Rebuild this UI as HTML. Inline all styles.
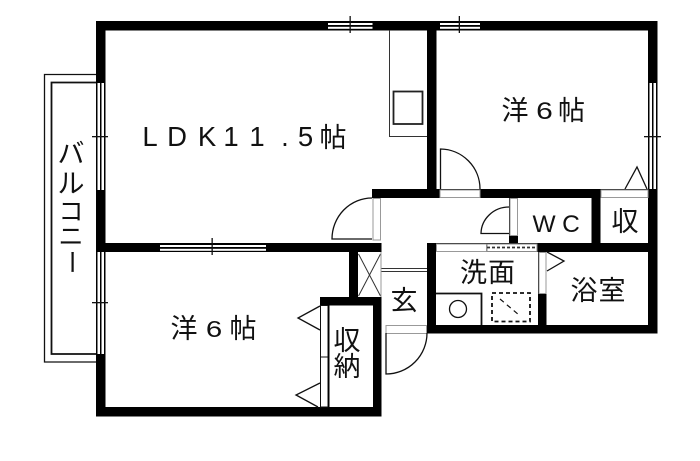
<!DOCTYPE html>
<html lang="ja"><head><meta charset="utf-8"><style>
html,body{margin:0;padding:0;background:#fff}
svg{display:block;filter:blur(.3px)}
text{font-family:"Liberation Sans","Noto Sans CJK JP",sans-serif;fill:#111;text-anchor:middle}
.j{font-size:27px}
.l{font-size:27.5px}
.t{fill:none;stroke:#111;stroke-width:1.3}
.g{fill:none;stroke:#333;stroke-width:1}
.f{fill:#fff;stroke:#999;stroke-width:1}
</style></head><body>
<svg width="700" height="461" viewBox="0 0 700 461" xmlns="http://www.w3.org/2000/svg">
<rect width="700" height="461" fill="#fff"/>
<!-- balcony -->
<path d="M96 74.5H44.5V362H96" fill="none" stroke="#111" stroke-width="1.3"/>
<path d="M96 82.5H51.5V354H96" fill="none" stroke="#111" stroke-width="1.8"/>
<!-- black walls -->
<g fill="#000">
<rect x="96" y="21" width="561" height="9.5"/>
<rect x="96" y="21" width="9.5" height="395.5"/>
<rect x="96" y="407" width="285.5" height="9.5"/>
<rect x="648" y="21" width="9.5" height="312.5"/>
<rect x="427" y="21" width="9.5" height="177"/>
<rect x="372" y="189" width="285" height="9"/>
<rect x="96" y="243" width="285.5" height="9"/>
<rect x="349" y="243" width="9" height="62"/>
<rect x="320" y="297" width="61.5" height="8.5"/>
<rect x="373" y="297" width="8.5" height="119"/>
<rect x="427" y="243" width="230" height="9"/>
<rect x="427" y="243" width="9" height="90.5"/>
<rect x="427" y="325" width="230" height="8.5"/>
<rect x="538" y="243" width="8.5" height="90"/>
<rect x="591.5" y="189" width="9" height="60"/>
<rect x="509" y="189" width="9" height="60"/>
</g>
<!-- top windows -->
<g>
<rect x="328" y="21" width="44.5" height="9.5" fill="#000"/>
<rect x="328" y="23" width="44.5" height="2" fill="#fff"/>
<rect x="328" y="26.8" width="44.5" height="2" fill="#fff"/>
<rect x="349.5" y="16" width="1.3" height="17" fill="#111"/>
<rect x="440" y="23" width="40" height="2" fill="#fff"/>
<rect x="440" y="26.8" width="40" height="2" fill="#fff"/>
<rect x="458.7" y="16" width="1.3" height="17" fill="#111"/>
<!-- lower LDK window -->
<rect x="160" y="245" width="106" height="2" fill="#fff"/>
<rect x="160" y="248.8" width="106" height="2" fill="#fff"/>
<rect x="211.5" y="238" width="1.3" height="17" fill="#111"/>
<!-- left windows -->
<rect x="97.5" y="83" width="2.5" height="107" fill="#fff"/>
<rect x="101.5" y="83" width="2.5" height="107" fill="#fff"/>
<rect x="92" y="136" width="16" height="1.3" fill="#111"/>
<rect x="97.5" y="252" width="2.5" height="102" fill="#fff"/>
<rect x="101.5" y="252" width="2.5" height="102" fill="#fff"/>
<rect x="92" y="302" width="16" height="1.3" fill="#111"/>
<!-- right window -->
<rect x="649.5" y="83" width="2.5" height="106" fill="#fff"/>
<rect x="653.5" y="83" width="2.5" height="106" fill="#fff"/>
<rect x="644" y="136" width="17" height="1.3" fill="#111"/>
</g>
<!-- light door openings -->
<rect x="440" y="190" width="40" height="7.5" class="f"/>
<rect x="601" y="190" width="47" height="7.5" class="f"/>
<rect x="373" y="198.5" width="7.5" height="41.5" class="f"/>
<rect x="510" y="198.5" width="7.5" height="37" class="f"/>
<rect x="436.5" y="244" width="50" height="7.5" class="f"/>
<rect x="487" y="244" width="50" height="7.5" fill="#fff" stroke="#888"/>
<path d="M487 247.5H537" stroke="#333" stroke-width="1.8" stroke-dasharray="3 2" fill="none"/>
<rect x="539" y="252.5" width="7" height="41" class="f"/>
<rect x="386" y="325.5" width="40.5" height="8" class="f"/>
<rect x="320.5" y="305.5" width="7.5" height="101.5" fill="#fff" stroke="#111" stroke-width="1"/>
<path d="M320.5 357H328" stroke="#111"/>
<rect x="328" y="305" width="1.5" height="102" fill="#000"/>
<!-- shoe cupboard X -->
<path d="M358.5 254L380.5 296M380.5 254L358.5 296" class="g"/>
<path d="M381 252V297" stroke="#999" fill="none"/>
<!-- hall step -->
<path d="M381.5 268.5H427M381.5 271.5H427" class="g"/>
<!-- doors -->
<path d="M372 198A40 41 0 0 0 332 239H372" class="t"/>
<path d="M440.5 189V149A40 40 0 0 1 480 189" class="t"/>
<path d="M509 207A28 27 0 0 0 481 233.5H509" class="t"/>
<path d="M386 333V374A41 41 0 0 0 427 333" class="t"/>
<!-- kitchen -->
<path d="M389.5 30V136.5H427" class="g"/>
<rect x="393.5" y="91.5" width="29" height="32.5" fill="none" stroke="#222" stroke-width="1.8"/>
<!-- triangles -->
<path d="M625 189L637 167L647 189" class="t"/>
<path d="M547 252L564 261L547 271" class="t"/>
<path d="M320 306L298 318L320 330" class="t"/>
<path d="M320 383L296 395L318 407" class="t"/>
<!-- washroom -->
<path d="M436 293.5H481.5V325" fill="none" stroke="#111" stroke-width="1.8"/>
<circle cx="458" cy="309" r="8.5" class="t"/>
<rect x="492" y="293" width="38" height="28.5" fill="none" stroke="#111" stroke-width="1.8" stroke-dasharray="4 3"/>
<path d="M500 299L519 315" fill="none" stroke="#111" stroke-width="1.2" stroke-dasharray="5 4"/>
<!-- labels -->
<text x="150" y="146" class="l">L</text>
<text x="177" y="146" class="l">D</text>
<text x="207" y="146" class="l">K</text>
<text x="231" y="146" class="l">1</text>
<text x="257" y="146" class="l">1</text>
<text x="285" y="146" class="l">.</text>
<text x="305.5" y="146" class="l">5</text>
<text x="333" y="147" class="j">帖</text>
<text x="515" y="120" class="j">洋</text>
<text transform="translate(544.5 119) scale(1.25 1)" style="font-size:24px">6</text>
<text x="571.5" y="120" class="j">帖</text>
<text x="184" y="338" class="j">洋</text>
<text transform="translate(214 337) scale(1.25 1)" style="font-size:23.5px">6</text>
<text x="243" y="338" class="j">帖</text>
<text x="544" y="232" style="font-size:24.5px">W</text>
<text x="571" y="232" style="font-size:24.5px">C</text>
<text x="625" y="231" class="j">収</text>
<text x="473.5" y="282" class="j">洗</text>
<text x="501.5" y="282" class="j">面</text>
<text x="404" y="310" class="j">玄</text>
<text x="584" y="300" class="j">浴</text>
<text x="612" y="300" class="j">室</text>
<text x="347" y="350" class="j">収</text>
<text x="347" y="376" class="j">納</text>
<text x="71" y="163" class="j">バ</text>
<text x="71" y="193" class="j">ル</text>
<text x="71" y="220" style="font-size:25px">コ</text>
<text x="71" y="245" style="font-size:25px">ニ</text>
<text transform="translate(71 262) rotate(90)" y="8" style="font-size:25px">ー</text>
</svg>
</body></html>
